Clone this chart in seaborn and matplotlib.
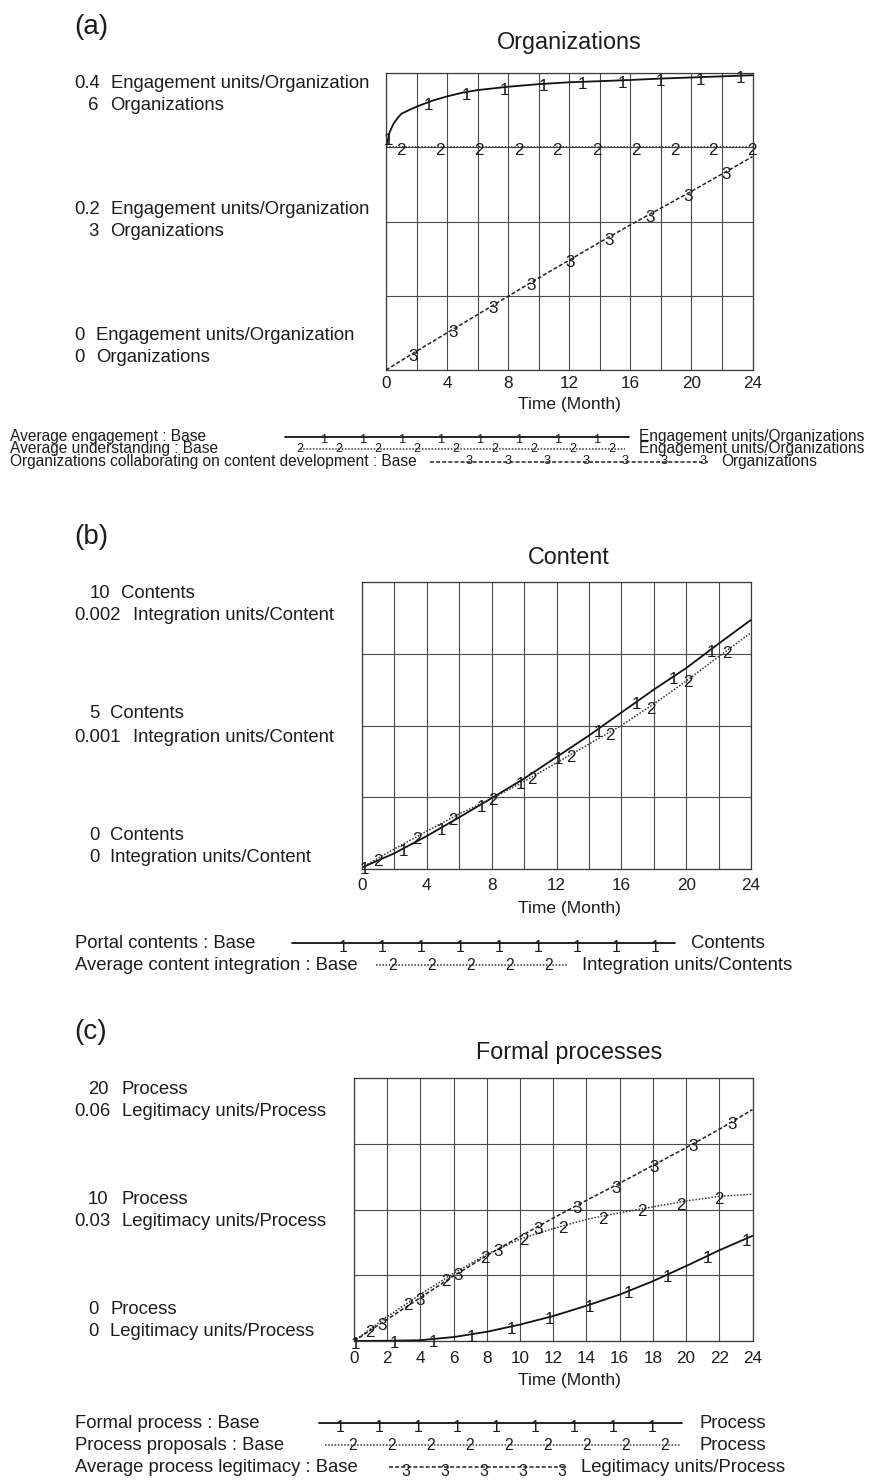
import numpy as np
import matplotlib
matplotlib.use("Agg")
import matplotlib.pyplot as plt
import seaborn as sns

# ------------------------------------------------------------------ data
months = [0, 2, 4, 6, 8, 10, 12, 14, 16, 18, 20, 22, 24]

# (a) Organizations
eng_months = [0, 0.25, 0.5, 0.75, 1, 1.5, 2, 3, 4, 5, 6, 8, 10, 12, 14, 16, 18, 20, 22, 24]
avg_engagement = [0.300, 0.321, 0.332, 0.339, 0.345, 0.350, 0.3546, 0.3625, 0.3685, 0.3735,
                  0.377, 0.3815, 0.385, 0.3875, 0.389, 0.3906, 0.3925, 0.394, 0.3955, 0.397]
avg_understanding = [0.3, 0.3, 0.3, 0.3, 0.3, 0.3, 0.3, 0.3, 0.3, 0.3, 0.3, 0.3, 0.3]
orgs_collaborating = [0, 0.38, 0.75, 1.12, 1.49, 1.86, 2.22, 2.58, 2.93, 3.27, 3.61, 3.96, 4.31]

# (b) Content
portal_contents = [0.05, 0.55, 1.15, 1.80, 2.47, 3.15, 3.90, 4.65, 5.45, 6.25, 7.00, 7.85, 8.68]
content_integration = [0.00001, 0.00014, 0.000264, 0.000384, 0.00049, 0.00061, 0.00074,
                       0.00087, 0.00100, 0.00115, 0.00131, 0.00148, 0.001646]

# (c) Formal processes
formal_process = [0.0, 0.02, 0.06, 0.30, 0.70, 1.25, 1.90, 2.68, 3.53, 4.55, 5.70, 6.90, 8.00]
process_proposals = [0.0, 1.85, 3.55, 5.15, 6.60, 7.75, 8.55, 9.25, 9.75, 10.20, 10.65, 11.00, 11.16]
process_legitimacy = [0.0, 0.00495, 0.0099, 0.01485, 0.0195, 0.02385, 0.02805, 0.0321,
                      0.0360, 0.04005, 0.0441, 0.0483, 0.0528]

# times at which the series numbers are stamped on the curves
marks_a1 = [0.15, 2.77, 5.28, 7.79, 10.3, 12.9, 15.5, 18.0, 20.6, 23.2]
marks_a2 = [0.96, 3.54, 6.05, 8.67, 11.2, 13.8, 16.35, 18.9, 21.4, 23.95]
marks_a3 = [1.8, 4.4, 7.0, 9.5, 12.05, 14.6, 17.3, 19.8, 22.3]
marks_b1 = [0.15, 2.55, 4.9, 7.38, 9.75, 12.1, 14.57, 16.95, 19.2, 21.57]
marks_b2 = [1.0, 3.4, 5.6, 8.1, 10.5, 12.9, 15.3, 17.8, 20.1, 22.5]
marks_c1 = [0.1, 2.45, 4.78, 7.1, 9.47, 11.8, 14.2, 16.55, 18.9, 21.3, 23.64]
marks_c2 = [0.97, 3.24, 5.55, 7.9, 10.22, 12.59, 14.98, 17.35, 19.66, 22.0]
marks_c3 = [1.67, 3.98, 6.3, 8.7, 11.1, 13.43, 15.77, 18.1, 20.45, 22.8]

# ------------------------------------------------------------------ style
sns.set_style("white")
plt.rcParams["font.family"] = ["Liberation Sans", "DejaVu Sans"]
TXT = "#1c1c1c"
GRID = "#4a4a4a"
STY1 = dict(color="#111111", lw=1.3, linestyle="-")
STY2 = dict(color="#333333", lw=1.1, linestyle=(0, (1.0, 1.1)))
STY3 = dict(color="#222222", lw=1.1, linestyle=(0, (2.6, 1.4)))

W, H = 872, 1482
fig = plt.figure(figsize=(W / 100, H / 100), dpi=100)

# full-figure layer in pixel units for the annotation text and legends
over = fig.add_axes([0, 0, 1, 1], zorder=5)
over.set_xlim(0, W)
over.set_ylim(H, 0)
over.axis("off")


def panel_axes(left, top, right, bottom):
    return fig.add_axes([left / W, 1 - bottom / H, (right - left) / W, (bottom - top) / H])


def frame(ax, ylim, label_every, pad):
    ax.set_xlim(0, 24)
    ax.set_ylim(*ylim)
    ax.set_xticks(months)
    ax.set_xticklabels([str(m) if m % label_every == 0 else "" for m in months])
    ax.set_yticks(np.linspace(ylim[0], ylim[1], 5))
    ax.set_yticklabels([])
    ax.tick_params(axis="both", length=0, pad=pad, labelsize=12.3, colors=TXT)
    ax.grid(True, color=GRID, lw=0.8)
    for s in ax.spines.values():
        s.set_color("#3a3a3a")
        s.set_linewidth(0.9)


def twin(ax, ylim):
    ax2 = ax.twinx()
    ax2.set_ylim(*ylim)
    ax2.set_yticks([])
    for s in ax2.spines.values():
        s.set_visible(False)
    return ax2


def series(ax, t, y, sty):
    sns.lineplot(x=t, y=y, ax=ax, **sty)
    ax.set_xlabel("")
    ax.set_ylabel("")


def stamps(ax, t, y, times, ch, size=12.3):
    for tm in times:
        ax.annotate(ch, (tm, float(np.interp(tm, t, y))), xytext=(0, 3.2),
                    textcoords="offset points", ha="center", va="top",
                    fontsize=size, color=TXT, annotation_clip=False)


def side_labels(rows, size=13.3):
    for num, nx, unit, ux, y in rows:
        over.text(nx, y, num, ha="left", va="center", fontsize=size, color=TXT)
        over.text(ux, y, unit, ha="left", va="center", fontsize=size, color=TXT)


def legend_row(y, label, lx, x0, x1, sty, ch, first, count, unit, ux, size,
               digit_size, hang=True):
    over.text(lx, y, label, ha="left", va="center", fontsize=size, color=TXT)
    over.plot([x0, x1], [y, y], **sty)
    for k in range(count):
        if hang:
            over.annotate(ch, (first + 39 * k, y), xytext=(0, 2.4), textcoords="offset points",
                          ha="center", va="top", fontsize=digit_size, color=TXT)
        else:
            over.text(first + 39 * k, y, ch, ha="center", va="center",
                      fontsize=digit_size, color=TXT)
    over.text(ux, y, unit, ha="left", va="center", fontsize=size, color=TXT)


def headings(tag, tag_y, title, title_y, xlab_y):
    over.text(74, tag_y, tag, ha="left", va="center", fontsize=20, color=TXT)
    over.text(569, title_y, title, ha="center", va="center", fontsize=16.8, color=TXT)
    over.text(569, xlab_y, "Time (Month)", ha="center", va="center", fontsize=12.5, color=TXT)


# ------------------------------------------------------------------ (a)
axa = panel_axes(386, 73, 752.5, 370)
frame(axa, (0, 0.4), 4, 4.3)
axa_o = twin(axa, (0, 6))
series(axa, months, avg_understanding, STY2)
series(axa, eng_months, avg_engagement, STY1)
series(axa_o, months, orgs_collaborating, STY3)
stamps(axa, eng_months, avg_engagement, marks_a1, "1")
stamps(axa, months, avg_understanding, marks_a2, "2")
stamps(axa_o, months, orgs_collaborating, marks_a3, "3")
headings("(a)", 27, "Organizations", 43, 405)
side_labels([
    ("0.4", 74, "Engagement units/Organization", 111, 83),
    ("6", 88, "Organizations", 110, 106),
    ("0.2", 74, "Engagement units/Organization", 111, 210),
    ("3", 88, "Organizations", 110, 232),
    ("0", 74, "Engagement units/Organization", 96, 336),
    ("0", 74, "Organizations", 96, 358),
])
legend_row(437, "Average engagement : Base", 10, 285, 629, STY1, "1", 325, 8,
           "Engagement units/Organizations", 639, 11.2, 9.3)
legend_row(448.5, "Average understanding : Base", 10, 300, 625, STY2, "2", 300, 9,
           "Engagement units/Organizations", 639, 11.2, 9.0, hang=False)
legend_row(461.5, "Organizations collaborating on content development : Base", 10, 430, 708,
           STY3, "3", 469, 7, "Organizations", 721, 11.2, 9.3, hang=False)

# ------------------------------------------------------------------ (b)
axb = panel_axes(362, 582, 751, 869)
frame(axb, (0, 10), 4, 6.6)
axb_i = twin(axb, (0, 0.002))
series(axb, months, portal_contents, STY1)
series(axb_i, months, content_integration, STY2)
stamps(axb, months, portal_contents, marks_b1, "1")
stamps(axb_i, months, content_integration, marks_b2, "2")
headings("(b)", 537, "Content", 557, 908)
side_labels([
    ("10", 90, "Contents", 121, 593),
    ("0.002", 74, "Integration units/Content", 133, 616),
    ("5", 89, "Contents", 110, 713),
    ("0.001", 74, "Integration units/Content", 133, 737),
    ("0", 89, "Contents", 110, 835),
    ("0", 89, "Integration units/Content", 110, 857),
])
legend_row(943, "Portal contents : Base", 75, 292, 675, STY1, "1", 343, 9,
           "Contents", 691, 13.3, 11.3)
legend_row(965, "Average content integration : Base", 75, 376, 567, STY2, "2", 393, 5,
           "Integration units/Contents", 582, 13.3, 11.3, hang=False)

# ------------------------------------------------------------------ (c)
axc = panel_axes(354, 1078, 752.5, 1341)
frame(axc, (0, 20), 2, 7.3)
axc_l = twin(axc, (0, 0.06))
series(axc, months, formal_process, STY1)
series(axc, months, process_proposals, STY2)
series(axc_l, months, process_legitimacy, STY3)
stamps(axc, months, formal_process, marks_c1, "1")
stamps(axc, months, process_proposals, marks_c2, "2")
stamps(axc_l, months, process_legitimacy, marks_c3, "3")
headings("(c)", 1032, "Formal processes", 1052, 1381)
side_labels([
    ("20", 88, "Process", 121, 1089),
    ("0.06", 74, "Legitimacy units/Process", 122, 1112),
    ("10", 88, "Process", 121, 1199),
    ("0.03", 74, "Legitimacy units/Process", 122, 1222),
    ("0", 88, "Process", 110, 1309),
    ("0", 88, "Legitimacy units/Process", 110, 1332),
])
legend_row(1423, "Formal process : Base", 75, 319, 682, STY1, "1", 340, 9,
           "Process", 699, 13.3, 11.3)
legend_row(1445, "Process proposals : Base", 75, 325, 681, STY2, "2", 353, 9,
           "Process", 699, 13.3, 11.3, hang=False)
legend_row(1467, "Average process legitimacy : Base", 75, 389, 566, STY3, "3", 406, 5,
           "Legitimacy units/Process", 581, 13.3, 11.3)

fig.savefig("out.png", dpi=100)
